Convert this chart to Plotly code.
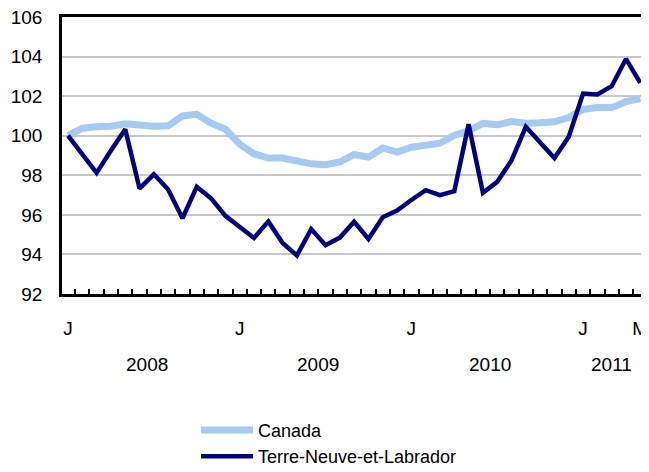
import plotly.graph_objects as go

months = list(range(41))  # Jan 2008 .. May 2011

canada = [100.0, 100.38, 100.45, 100.48, 100.6, 100.53, 100.48, 100.5, 101.0, 101.08,
          100.63, 100.33, 99.58, 99.08, 98.87, 98.87, 98.72, 98.58, 98.53, 98.67,
          99.05, 98.92, 99.38, 99.17, 99.42, 99.53, 99.62, 100.03, 100.25, 100.62,
          100.55, 100.72, 100.63, 100.65, 100.7, 100.92, 101.33, 101.42, 101.42, 101.72,
          101.88]

terre_neuve = [100.0, 99.08, 98.12, 99.25, 100.33, 97.33, 98.05, 97.28, 95.83, 97.42,
               96.83, 95.95, 95.42, 94.83, 95.67, 94.58, 93.95, 95.28, 94.47, 94.85,
               95.65, 94.78, 95.88, 96.22, 96.75, 97.25, 97.0, 97.2, 100.58, 97.12,
               97.67, 98.75, 100.45, 99.67, 98.87, 99.95, 102.13, 102.08, 102.5, 103.88,
               102.67]

month_tick_pos = [0, 12, 24, 36, 40]
month_tick_text = ["J", "J", "J", "J", "M"]

year_pos = [5.5, 17.5, 29.5, 38]
year_text = ["2008", "2009", "2010", "2011"]

y_ticks = [92, 94, 96, 98, 100, 102, 104, 106]

FONT = "Liberation Sans, Arial, sans-serif"

fig = go.Figure()
fig.add_trace(go.Scatter(x=months, y=canada, mode="lines", name="Canada",
                         line=dict(color="#A6CAF0", width=7)))
fig.add_trace(go.Scatter(x=months, y=terre_neuve, mode="lines", name="Terre-Neuve-et-Labrador",
                         line=dict(color="#000080", width=4.5)))

for xp, t in zip(year_pos, year_text):
    fig.add_annotation(x=xp, y=-0.255, xref="x", yref="paper", text=t, showarrow=False,
                       yanchor="middle", font=dict(family=FONT, size=19, color="black"))

# page body has an 8px default margin, so the figure is 8px smaller and shifted
fig.update_layout(
    width=641, height=464,
    margin=dict(l=54, r=3, t=9, b=178, autoexpand=False),
    paper_bgcolor="white", plot_bgcolor="white",
    font=dict(family=FONT, size=19, color="black"),
    showlegend=True,
    legend=dict(x=0.2295, y=-0.425, xanchor="left", yanchor="top", itemwidth=52,
                font=dict(family=FONT, size=18, color="black"),
                bgcolor="rgba(0,0,0,0)", tracegroupgap=0),
)

fig.update_xaxes(
    range=[-0.42, 40.4], automargin=False, ticklabeloverflow="allow",
    tickmode="array", tickvals=month_tick_pos, ticktext=month_tick_text,
    ticks="", ticklabelstandoff=15,
    showgrid=False, zeroline=False,
    showline=True, linecolor="black", linewidth=2.5, mirror=True,
    minor=dict(tickmode="array", tickvals=[i + 0.5 for i in range(40)],
               ticks="inside", ticklen=5, tickwidth=2, tickcolor="black", showgrid=False),
)
fig.update_yaxes(
    range=[92, 106], tickmode="array", tickvals=y_ticks, automargin=False,
    ticklabeloverflow="allow",
    ticks="", ticklabelstandoff=13,
    showgrid=True, gridcolor="#C8C8C8", gridwidth=2, zeroline=False,
    showline=True, linecolor="black", linewidth=2.5, mirror=True,
)

fig.write_html("out.html")
